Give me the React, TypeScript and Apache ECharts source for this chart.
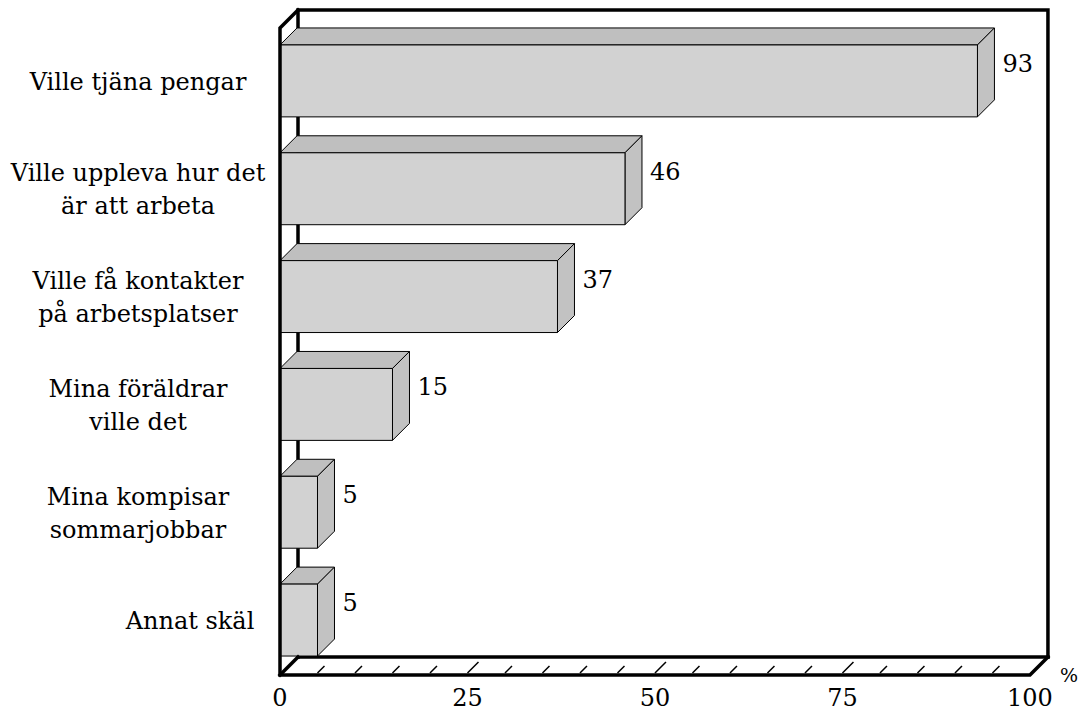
import React, { useEffect, useRef } from "react";
import * as echarts from "echarts";

const categories = [
  "Ville tjäna pengar",
  "Ville uppleva hur det\när att arbeta",
  "Ville få kontakter\npå arbetsplatser",
  "Mina föräldrar\nville det",
  "Mina kompisar\nsommarjobbar",
  "Annat skäl",
];
const values = [93, 46, 37, 15, 5, 5];
const xTickLabels = [0, 25, 50, 75, 100];
const floorTicks = [5, 10, 15, 20, 25, 30, 35, 40, 45, 50, 55, 60, 65, 70, 75, 80, 85, 90, 95];

const FONT = "DejaVu Serif";
const FS = 24;
const FRONT = "#d2d2d2";
const TOP = "#bfbfbf";
const SIDE = "#c2c2c2";
const D = 17;
const FD = 18;

export default function App() {
  const ref = useRef<HTMLDivElement>(null);
  useEffect(() => {
    if (!ref.current) return;
    const chart = echarts.init(ref.current, undefined, { renderer: "svg" });
    const thick = { stroke: "#000", lineWidth: 3.5, fill: "none", lineJoin: "miter", lineCap: "square" };
    const option: any = {
      animation: false,
      backgroundColor: "#fff",
      textStyle: { fontFamily: FONT },
      grid: { left: 280, right: 51, top: 28, bottom: 40, containLabel: false },
      xAxis: {
        type: "value",
        min: 0,
        max: 100,
        interval: 25,
        axisLine: { show: false },
        axisTick: { show: false },
        splitLine: { show: false },
        axisLabel: {
          margin: 11,
          fontSize: FS,
          fontFamily: FONT,
          color: "#000",
          formatter: (v: number) => (xTickLabels.includes(v) ? String(v) : ""),
        },
        name: "%",
        nameLocation: "end",
        nameGap: 30,
        nameTextStyle: { fontSize: 19, fontFamily: FONT, color: "#000", padding: [0, 0, 10, 0] },
      },
      yAxis: {
        type: "category",
        data: categories,
        inverse: true,
        axisLine: { show: false },
        axisTick: { show: false },
        splitLine: { show: false },
        axisLabel: {
          margin: 142,
          align: "center",
          fontSize: FS,
          lineHeight: 33,
          fontFamily: FONT,
          color: "#000",
          formatter: (v: string) => (v === "Annat skäl" ? "{a|" + v + "}" : v),
          rich: {
            a: { fontSize: FS, fontFamily: FONT, color: "#000", padding: [0, 0, 0, 104] },
          },
        },
      },
      series: [
        {
          type: "custom",
          z: 1,
          silent: true,
          data: [[0, 0]],
          renderItem: (params: any) => {
            const cs = params.coordSys;
            const L = cs.x, T = cs.y, R = cs.x + cs.width, B = cs.y + cs.height;
            return {
              type: "group",
              children: [
                { type: "polyline", shape: { points: [[L + FD, B - FD], [L + FD, T - FD], [R + FD, T - FD], [R + FD, B - FD]] }, style: thick },
                { type: "line", shape: { x1: L + FD, y1: B - FD, x2: R + FD, y2: B - FD }, style: thick },
              ],
            };
          },
        },
        {
          type: "custom",
          z: 2,
          data: values.map((v, i) => [v, i]),
          renderItem: (params: any, api: any) => {
            const v = api.value(0);
            const idx = api.value(1);
            const p0 = api.coord([0, idx]);
            const p1 = api.coord([v, idx]);
            const band = api.size([0, 1])[1];
            const h = band * 0.667;
            const cy = p0[1] - 1;
            const x0 = p0[0], x1 = p1[0];
            const yT = cy - h / 2, yB = cy + h / 2;
            const edge = { stroke: "#000", lineWidth: 1 };
            return {
              type: "group",
              children: [
                { type: "polygon", shape: { points: [[x0, yT], [x1, yT], [x1 + D, yT - D], [x0 + D, yT - D]] }, style: { fill: TOP, ...edge } },
                { type: "polygon", shape: { points: [[x1, yT], [x1 + D, yT - D], [x1 + D, yB - D], [x1, yB]] }, style: { fill: SIDE, ...edge } },
                { type: "rect", shape: { x: x0, y: yT, width: x1 - x0, height: h }, style: { fill: FRONT, ...edge } },
                {
                  type: "text",
                  style: {
                    text: String(v),
                    x: x1 + D + 8,
                    y: cy - D,
                    align: "left",
                    verticalAlign: "middle",
                    fontSize: FS,
                    fontFamily: FONT,
                    fill: "#000",
                  },
                },
              ],
            };
          },
        },
        {
          type: "custom",
          z: 3,
          silent: true,
          data: [[0, 0]],
          renderItem: (params: any, api: any) => {
            const cs = params.coordSys;
            const L = cs.x, T = cs.y, R = cs.x + cs.width, B = cs.y + cs.height;
            const children: any[] = [
              { type: "polyline", shape: { points: [[L + FD, T - FD], [L, T], [L, B], [R, B], [R + FD, B - FD]] }, style: thick },
              { type: "line", shape: { x1: L, y1: B, x2: L + FD, y2: B - FD }, style: thick },
            ];
            floorTicks.forEach((t) => {
              const x = api.coord([t, 0])[0];
              const major = t % 25 === 0;
              const len = major ? 11 : 7;
              children.push({
                type: "line",
                shape: { x1: x, y1: B - 2, x2: x + len, y2: B - 2 - len },
                style: { stroke: "#000", lineWidth: 1.5 },
              });
            });
            return { type: "group", children };
          },
        },
      ],
    };
    chart.setOption(option);
    return () => chart.dispose();
  }, []);
  return (
    <div
      ref={ref}
      style={{ position: "fixed", left: 0, top: 0, width: 1081, height: 715, background: "#fff" }}
    />
  );
}
